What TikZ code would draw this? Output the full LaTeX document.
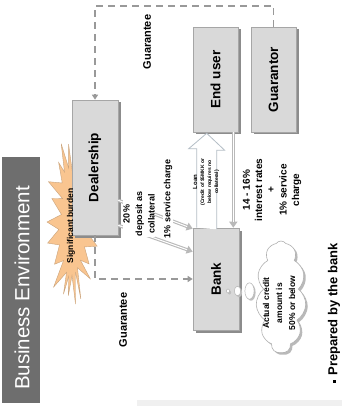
\documentclass[tikz,border=0pt]{standalone}
\usepackage{fontspec}
\setmainfont{Liberation Sans}
\usetikzlibrary{shapes.symbols,shadows,arrows.meta,calc}
\definecolor{boxfill}{HTML}{D9D9D9}
\definecolor{boxline}{HTML}{A6A6A6}
\definecolor{shade}{HTML}{8C8C8C}
\definecolor{dashc}{HTML}{999999}
\definecolor{bedark}{HTML}{6E6E6E}
\definecolor{burstfill}{HTML}{F9C590}
\definecolor{burstline}{HTML}{C9A27A}
\definecolor{loanline}{HTML}{B4BEC6}
\definecolor{strip}{HTML}{F0F0F0}
\begin{document}
\begin{tikzpicture}[x=1pt,y=-1pt,
  box/.style={draw=boxline, fill=boxfill, line width=0.6pt, inner sep=0pt,
    drop shadow={shadow xshift=2.5pt, shadow yshift=-2.5pt, fill=shade, opacity=1},
    font=\bfseries\fontsize{13.5}{15}\selectfont},
  dashline/.style={draw=dashc, line width=1.8pt, dash pattern=on 7pt off 5pt},
  lbl/.style={font=\bfseries\fontsize{9}{12.5}\selectfont, align=center, inner sep=0.5pt},
  pipe/.style={draw=gray!55, line width=3.2pt, -{Triangle[length=6pt,width=8pt]},
    postaction={draw, white, line width=1pt, -, shorten >=6pt}},
  bubble/.style={draw=gray!60, fill=white, line width=0.5pt,
    drop shadow={shadow xshift=1.5pt, shadow yshift=-1.5pt, fill=gray!50, opacity=1}}
]
\useasboundingbox (0,0) rectangle (342,406);
\fill[white] (0,0) rectangle (342,406);
\fill[strip] (137,400) rectangle (342,406);

% Business environment
\node[fill=bedark, minimum width=38pt, minimum height=246pt, inner sep=0pt] (be) at (21,280) {};
\node[text=white, font=\fontsize{20.5}{24}\selectfont, rotate=90] (betext) at (22,288) {Business Environment};

% burst
\fill[burstfill, draw=burstline, line width=0.4pt]
  plot[samples at={0,...,43}, variable=\k]
  ({72+(mod(\k,2)==0 ? 24+4*sin(\k*73) : 12+2*sin(\k*41))*cos(\k*360/44)},
   {222+(mod(\k,2)==0 ? 80+6*sin(\k*51) : 56+4*sin(\k*29))*sin(\k*360/44)}) -- cycle;

% boxes
\node[box, minimum width=46pt, minimum height=135pt] (deal) at (95,167.5) {\rotatebox{90}{Dealership}};
\node[box, minimum width=45pt, minimum height=105pt] (eu) at (215.5,79.5) {\rotatebox{90}{End user}};
\node[box, minimum width=45pt, minimum height=105pt] (guar) at (273.5,79.5) {\rotatebox{90}{Guarantor}};
\node[box, minimum width=46pt, minimum height=102pt] (bank) at (216,279) {\rotatebox{90}{Bank}};

\node[font=\bfseries\fontsize{8.5}{10}\selectfont, rotate=90] (burden) at (71,226) {Significant burden};

% dashed guarantees
\draw[dashline, -{Triangle[length=5pt,width=6pt]}] (guar.north) -- ++(0,-21) -| (deal.north);
\draw[dashline, -{Triangle[length=5pt,width=6pt]}] (deal.south) |- (bank.west);
\node[font=\bfseries\fontsize{11}{13}\selectfont, rotate=90] (g1) at (147,42) {Guarantee};
\node[font=\bfseries\fontsize{11}{13}\selectfont, rotate=90] (g2) at (123,320) {Guarantee};

% dealership to bank
\draw[pipe] ([yshift=35pt]deal.south east) -- ([yshift=-1pt]bank.north west);
\draw[pipe] ([yshift=10pt]deal.south east) -- ([yshift=-24pt]bank.north west);
\node[lbl, rotate=90, fill=white] (dep) at (139,214) {20\%\\deposit as\\collateral};
\node[lbl, rotate=90, fill=white] (svc) at (168,199) {1\% service charge};

% loan arrow
\draw[draw=loanline, fill=white, line width=0.8pt]
  ([xshift=4pt]bank.north west) -- ++(0,-79) -- ++(-8,0)
  -- ([xshift=14pt,yshift=-1pt]eu.south west) -- ++(18,17) -- ++(-8,0) -- ++(0,79);
\node[font=\bfseries\fontsize{6}{7}\selectfont, rotate=90, align=center] (loan) at (206,182)
  {Loan\\{\fontsize{5}{6}\selectfont (Credit of \$5MKK or}\\{\fontsize{5}{6}\selectfont below requires no}\\{\fontsize{5}{6}\selectfont collateral)}};

% end user to bank
\draw[pipe] ([xshift=-5pt]eu.south east) -- ([xshift=-6pt]bank.north east);
\node[font=\bfseries\fontsize{10}{12.3}\selectfont, rotate=90, align=center] (rates) at (272,190)
  {14 - 16\%\\interest rates\\+\\1\% service\\charge};

% cloud
\node[cloud, cloud puffs=11, cloud puff arc=110, draw=gray!60, fill=white, line width=0.6pt,
  minimum width=50pt, minimum height=112pt, inner sep=0pt,
  drop shadow={shadow xshift=2pt, shadow yshift=-2pt, fill=gray!55, opacity=1}] (cloud) at (281,297) {};
\draw[bubble] (228,291) ellipse [x radius=1.6pt, y radius=2pt];
\draw[bubble] (237.5,291) ellipse [x radius=3.2pt, y radius=4.8pt];
\draw[bubble] (249.5,291) ellipse [x radius=4.6pt, y radius=8.2pt];
\node[font=\bfseries\fontsize{8.5}{13}\selectfont, rotate=90, align=center] (credit) at (279,303)
  {Actual credit\\amount is\\50\% or below};

% note
\node[font=\bfseries\fontsize{13}{15}\selectfont, rotate=90] (note) at (334,313)
  {\raisebox{1.5pt}{\rule{3pt}{3pt}}\hspace{4pt}Prepared by the bank};
\end{tikzpicture}
\end{document}
